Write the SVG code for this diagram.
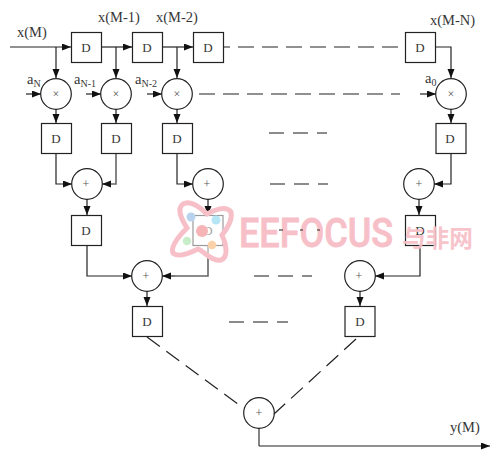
<svg xmlns="http://www.w3.org/2000/svg" width="503" height="459" viewBox="0 0 503 459">
<style>
.b{fill:#fff;stroke:#222;stroke-width:1.2}
.o{fill:none;stroke:#222;stroke-width:1.2}
.c{fill:none;stroke:#222;stroke-width:1.2}
.a{marker-end:url(#ar)}
.g{fill:none;stroke:#666;stroke-width:1.6}
text{font-family:"Liberation Serif",serif;fill:#333;opacity:.98}
.t{font-size:14.5px}
.d{font-size:13px;text-anchor:middle}
.s{font-size:10px}
.m{font-size:12px;text-anchor:middle;fill:#555}
</style>
<defs><marker id="ar" markerUnits="userSpaceOnUse" markerWidth="10" markerHeight="8" refX="9" refY="3.5" orient="auto"><path d="M0 0L9 3.5L0 7Z" fill="#111"/></marker></defs>
<rect width="503" height="459" fill="#fff"/>
<g id="connectors">
<path class="c a" d="M10 47H71"/><path class="c a" d="M101 47H132"/><path class="c a" d="M162 47H193"/>
<path class="c a" d="M56 47V78"/><path class="c a" d="M116 47V78"/><path class="c a" d="M177 47V78"/>
<path class="c" d="M223 47H405" stroke-dasharray="16 8" stroke-dashoffset="-15"/>
<path class="c a" d="M436 47H451V78"/>
<path class="c a" d="M26 94H41"/><path class="c a" d="M86 94H101"/><path class="c a" d="M147 94H162"/>
<path class="c" d="M192 94H400" stroke-dasharray="16 8" stroke-dashoffset="-7" stroke-width="1.5"/>
<path class="c a" d="M420 94H436"/>
<path class="c a" d="M56 109V123"/><path class="c a" d="M116 109V123"/><path class="c a" d="M177 109V123"/><path class="c a" d="M451 109V123"/>
<path class="g" d="M269 133H327" stroke-dasharray="15 9"/>
<path class="g" d="M270 184H328" stroke-dasharray="15 9"/>
<path class="c a" d="M56 154V184H72"/><path class="g" d="M116 154V184H110"/><path class="c a" d="M110 184H102"/>
<path class="c a" d="M177 154V184H193"/><path class="c a" d="M451 154V184H434"/>
<path class="c a" d="M87 199V215"/><path class="c a" d="M208 199V215"/><path class="c a" d="M419 199V215"/>
<path class="c a" d="M87 246V276H132"/><path class="g" d="M208 246V276H175"/><path class="c a" d="M175 276H162"/>
<path class="c a" d="M420 246V276H375"/>
<path class="g" d="M254 276H312" stroke-dasharray="15 9"/>
<path class="c a" d="M147 291V306"/><path class="c a" d="M360 291V306"/>
<path class="g" d="M229 322H288" stroke-dasharray="15 9"/>
<path class="c" d="M147 337L238 404" stroke-dasharray="16 8"/>
<path class="c" d="M356 339L274 414" stroke-dasharray="16 8"/>
<path class="g" d="M259 428V446"/><path class="c a" d="M259 446H490"/>
</g>
<g id="d1"><rect class="b" x="71.5" y="32.5" width="30" height="30"/><text class="d" x="86" y="51.5">D</text></g>
<g id="d2"><rect class="b" x="132.5" y="32.5" width="30" height="30"/><text class="d" x="147" y="51.5">D</text></g>
<g id="d3"><rect class="b" x="193.5" y="32.5" width="30" height="30"/><text class="d" x="208" y="51.5">D</text></g>
<g id="d4"><rect class="b" x="405.5" y="32.5" width="30" height="30"/><text class="d" x="420" y="51.5">D</text></g>
<g id="m1"><circle class="o" cx="56" cy="94" r="15.3"/><text class="m" x="56" y="98">×</text></g>
<g id="m2"><circle class="o" cx="116" cy="94" r="15.3"/><text class="m" x="116" y="98">×</text></g>
<g id="m3"><circle class="o" cx="177" cy="94" r="15.3"/><text class="m" x="177" y="98">×</text></g>
<g id="m4"><circle class="o" cx="451" cy="94" r="15.3"/><text class="m" x="451" y="98">×</text></g>
<g id="d5"><rect class="b" x="41.5" y="123.5" width="30" height="30"/><text class="d" x="56" y="143">D</text></g>
<g id="d6"><rect class="b" x="101.5" y="123.5" width="30" height="30"/><text class="d" x="116" y="143">D</text></g>
<g id="d7"><rect class="b" x="162.5" y="123.5" width="30" height="30"/><text class="d" x="177" y="143">D</text></g>
<g id="d8"><rect class="b" x="436" y="123.5" width="30" height="30"/><text class="d" x="450" y="143">D</text></g>
<g id="p1"><circle class="o" cx="87" cy="184" r="15.3"/><text class="m" x="86" y="188">+</text></g>
<g id="p2"><circle class="o" cx="208" cy="184" r="15.3"/><text class="m" x="207" y="188">+</text></g>
<g id="p3"><circle class="o" cx="419" cy="184" r="15.3"/><text class="m" x="419" y="188">+</text></g>
<g id="d9"><rect class="b" x="71.5" y="215.5" width="30" height="30"/><text class="d" x="86" y="234.5">D</text></g>
<g id="d10"><rect class="b" x="193" y="215.5" width="30" height="30"/><text class="d" x="208" y="234.5">D</text></g>
<g id="d11"><rect class="b" x="405.5" y="215.5" width="30" height="30"/><text class="d" x="420" y="234.5">D</text></g>
<g id="p4"><circle class="o" cx="147" cy="276" r="15.3"/><text class="m" x="146" y="280">+</text></g>
<g id="p5"><circle class="o" cx="360" cy="276" r="15.3"/><text class="m" x="359" y="280">+</text></g>
<g id="d12"><rect class="b" x="132.5" y="306.5" width="30" height="30"/><text class="d" x="147" y="325.5">D</text></g>
<g id="d13"><rect class="b" x="345" y="306.5" width="30" height="30"/><text class="d" x="360" y="325.5">D</text></g>
<g id="p6"><circle class="o" cx="259" cy="413" r="15.3"/><text class="m" x="259" y="417">+</text></g>
<g id="labels">
<text class="t" x="17" y="37">x(M)</text>
<text class="t" x="98" y="22">x(M-1)</text>
<text class="t" x="156" y="22">x(M-2)</text>
<text class="t" x="430" y="25">x(M-N)</text>
<text class="t" x="27" y="84">a<tspan class="s" dy="3">N</tspan></text>
<text class="t" x="74" y="84">a<tspan class="s" dy="3">N-1</tspan></text>
<text class="t" x="135" y="84">a<tspan class="s" dy="3">N-2</tspan></text>
<text class="t" x="425" y="83">a<tspan class="s" dy="3">0</tspan></text>
<text class="t" x="450" y="432">y(M)</text>
</g>
<g id="watermark">
<path d="M183 204C190 200 200 207 207 214C214 210 226 205 231 212C233 221 226 230 222 235C226 243 229 257 221 260C212 262 205 252 198 249C190 253 178 258 173 253C170 246 180 235 187 228C182 220 176 209 183 204Z" fill="#fff" fill-opacity=".55" stroke="#f7c0c8" stroke-width="5"/>
<circle cx="191" cy="217" r="4.5" fill="#b9d3ee"/>
<circle cx="216" cy="220" r="4.5" fill="#b5e6f5"/>
<circle cx="202" cy="231" r="6" fill="#f6b4b6"/>
<circle cx="187" cy="241" r="4.3" fill="#c8edc9"/>
<circle cx="212" cy="245" r="4.3" fill="#fbd2a8"/>
<text x="239" y="247" font-size="40" font-weight="500" style="font-family:Roboto,'Noto Sans',sans-serif;fill:#f7c0c8;opacity:1" textLength="154" lengthAdjust="spacingAndGlyphs" stroke="#f7c0c8" stroke-width=".8">EEFOCUS</text>
<text x="402" y="247" font-size="24" font-weight="700" style="font-family:'Noto Sans CJK SC',sans-serif;fill:#f7c0c8;opacity:.92" textLength="71" lengthAdjust="spacingAndGlyphs">与非网</text>
<path class="c" d="M279 230h4M300 230h3M317 230h3"/>
</g>
</svg>
